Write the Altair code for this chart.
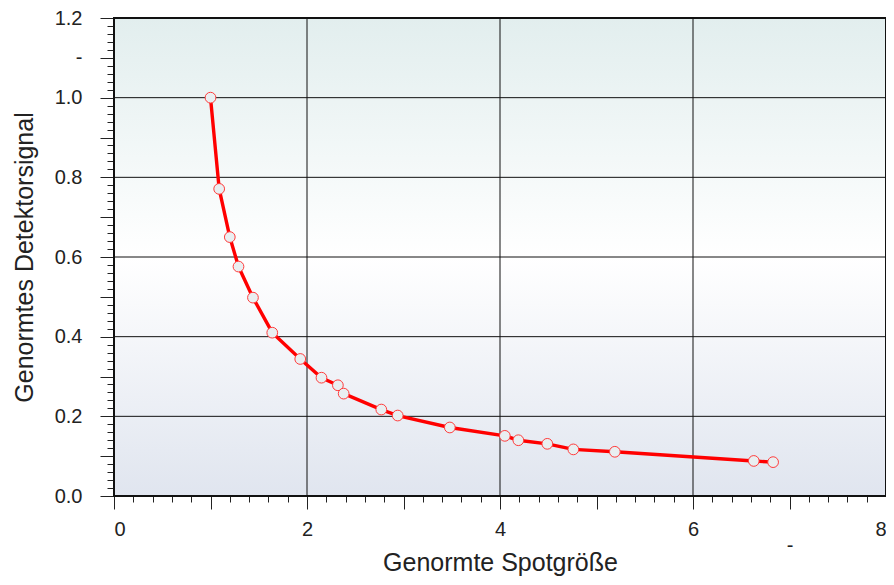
import altair as alt
import pandas as pd

# data
x_vals = [1.00, 1.09, 1.20, 1.29, 1.44, 1.64, 1.93, 2.15, 2.32, 2.38, 2.77, 2.94,
          3.48, 4.05, 4.19, 4.49, 4.76, 5.19, 6.63, 6.83]
y_vals = [1.000, 0.771, 0.650, 0.576, 0.498, 0.410, 0.344, 0.297, 0.278, 0.257,
          0.217, 0.202, 0.172, 0.151, 0.140, 0.131, 0.117, 0.111, 0.088, 0.085]

x_major = [0, 2, 4, 6, 8]
x_medium = [1, 3, 5, 7]
x_minor = [round(i * 0.2, 2) for i in range(41)]
y_major = [0.0, 0.2, 0.4, 0.6, 0.8, 1.0, 1.2]
y_medium = [0.1, 0.3, 0.5, 0.7, 0.9, 1.1]
y_minor = [round(i * 0.02, 2) for i in range(61)]
x_grid = [2, 4, 6]
y_grid = [0.2, 0.4, 0.6, 0.8, 1.0]

df = pd.DataFrame({"x": x_vals, "y": y_vals})
gx = pd.DataFrame({"g": x_grid})
gy = pd.DataFrame({"g": y_grid})

W, H = 772, 478
FONT = "Liberation Sans"
xs = alt.Scale(domain=[0, 8], nice=False, zero=False)
ys = alt.Scale(domain=[0, 1.2], nice=False, zero=False)

grad = alt.Gradient(
    gradient="linear",
    stops=[
        alt.GradientStop(color="#e2eeee", offset=0),
        alt.GradientStop(color="#ffffff", offset=0.5),
        alt.GradientStop(color="#e0e5ef", offset=1),
    ],
    x1=0, x2=0, y1=0, y2=1,
)

bg = alt.Chart(pd.DataFrame({"k": [0]})).mark_rect(color=grad).encode(
    x=alt.value(0), x2=alt.value(W), y=alt.value(0), y2=alt.value(H)
)

grid_x = alt.Chart(gx).mark_rule(color="#111", strokeWidth=1).encode(
    x=alt.X("g:Q", scale=xs, axis=None), y=alt.value(0), y2=alt.value(H)
)
grid_y = alt.Chart(gy).mark_rule(color="#111", strokeWidth=1).encode(
    y=alt.Y("g:Q", scale=ys, axis=None), x=alt.value(0), x2=alt.value(W)
)

common = dict(domain=False, grid=False, tickColor="#222", tickWidth=1,
              labelFont=FONT, labelFontSize=20, labelColor="#222",
              titleFont=FONT, titleFontSize=25, titleColor="#222", titleFontWeight="normal")

line = alt.Chart(df).mark_line(color="#ff0000", strokeWidth=3.4).encode(
    x=alt.X("x:Q", scale=xs, axis=alt.Axis(values=x_major, tickSize=13, labelPadding=10,
                                            format="d", title="Genormte Spotgröße",
                                            titlePadding=11, orient="bottom", **common)),
    y=alt.Y("y:Q", scale=ys, axis=alt.Axis(values=y_major, tickSize=14, labelPadding=18,
                                            format=".1f", title="Genormtes Detektorsignal",
                                            titlePadding=17, orient="left", **common)),
)

pts = alt.Chart(df).mark_point(shape="circle", filled=True, fill="#e9eff1",
                               stroke="#ff3c3c", strokeWidth=1, opacity=1, size=115).encode(
    x=alt.X("x:Q", scale=xs, axis=None),
    y=alt.Y("y:Q", scale=ys, axis=None),
)

med = alt.Chart(df).mark_point(opacity=0).encode(
    x=alt.X("x:Q", scale=xs, axis=alt.Axis(values=x_medium, tickSize=13, labelPadding=26,
                                            labelExpr="datum.value == 7 ? '-' : ''",
                                            title=None, orient="bottom", **common)),
    y=alt.Y("y:Q", scale=ys, axis=alt.Axis(values=y_medium, tickSize=14, labelPadding=18,
                                            labelExpr="(datum.value > 1.05 && datum.value < 1.15) ? '-' : ''",
                                            title=None, orient="left", **common)),
)

minor = alt.Chart(df).mark_point(opacity=0).encode(
    x=alt.X("x:Q", scale=xs, axis=alt.Axis(values=x_minor, tickSize=6, labels=False,
                                            title=None, orient="bottom", **common)),
    y=alt.Y("y:Q", scale=ys, axis=alt.Axis(values=y_minor, tickSize=7, labels=False,
                                            title=None, orient="left", **common)),
)

border = alt.Chart(pd.DataFrame({"k": [0]})).mark_rect(
    fill=None, stroke="#111", strokeWidth=2, filled=False
).encode(x=alt.value(0), x2=alt.value(W), y=alt.value(0), y2=alt.value(H))

chart = alt.layer(bg, grid_x, grid_y, minor, med, line, pts, border).resolve_axis(
    x="independent", y="independent"
).properties(
    width=W, height=H, background="white",
    autosize=alt.AutoSizeParams(type="none"),
    padding={"left": 106, "top": 10, "right": 0, "bottom": 81},
).configure_view(stroke=None)

chart.save("out.html", embed_options={"renderer": "svg", "actions": False})
